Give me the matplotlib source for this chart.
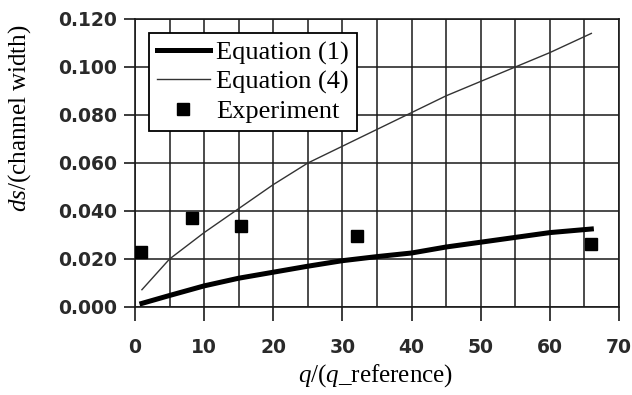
import numpy as np
import matplotlib
matplotlib.use('Agg')
import matplotlib.pyplot as plt
from matplotlib.ticker import MultipleLocator

# ---------- data ----------
q_eq = [1, 5, 10, 15, 20, 25, 30, 35, 40, 45, 50, 55, 60, 66]
ds_eq1 = [0.0015, 0.0048, 0.0088, 0.0120, 0.0145, 0.0170, 0.0193,
          0.0210, 0.0225, 0.0250, 0.0270, 0.0290, 0.0310, 0.0325]
ds_eq4 = [0.0072, 0.0200, 0.0310, 0.0410, 0.0510, 0.0600, 0.0670,
          0.0740, 0.0810, 0.0880, 0.0940, 0.1000, 0.1060, 0.1140]
q_exp = [0.9, 8.3, 15.3, 32.1, 65.9]
ds_exp = [0.0229, 0.0370, 0.0339, 0.0295, 0.0262]

labels = ['Equation (1)', 'Equation (4)', 'Experiment']
yticks = [0.0, 0.02, 0.04, 0.06, 0.08, 0.10, 0.12]
xticks = [0, 10, 20, 30, 40, 50, 60, 70]

plt.rcParams['mathtext.fontset'] = 'custom'
plt.rcParams['mathtext.rm'] = 'Liberation Serif'
plt.rcParams['mathtext.it'] = 'Liberation Serif:italic'

fig = plt.figure(figsize=(6.32, 3.95), dpi=100)
ax = fig.add_axes([135/632, 1 - 307/395, 484/632, 288/395])

ax.plot(q_eq, ds_eq1, color='black', lw=3.6, label=labels[0], zorder=3)
ax.plot(q_eq, ds_eq4, color='#333333', lw=1.0, label=labels[1], zorder=3)
ax.plot(q_exp, ds_exp, 's', color='black', ms=9, label=labels[2], zorder=4)

ax.set_xlim(0, 70)
ax.set_ylim(0, 0.12)
ax.set_xticks(xticks)
ax.xaxis.set_minor_locator(MultipleLocator(5))
ax.set_yticks(yticks)
ax.set_yticklabels(['%.3f' % v for v in yticks])

ax.grid(True, which='both', color='#1a1a1a', lw=1.1)
ax.set_axisbelow(True)
for s in ax.spines.values():
    s.set_color('#1a1a1a')
    s.set_linewidth(1.2)

ax.tick_params(axis='both', which='major', direction='out', color='#1a1a1a',
               width=1.2, labelsize=13.5)
ax.tick_params(axis='x', which='major', length=10, pad=12)
ax.tick_params(axis='y', which='major', length=8, pad=5)
ax.tick_params(axis='x', which='minor', length=0)
for t in ax.get_xticklabels() + ax.get_yticklabels():
    t.set_family('DejaVu Sans')
    t.set_weight('bold')
    t.set_color('#2a2a2a')

ax.set_xlabel(r'$q$/($q$_reference)', family='Liberation Serif', fontsize=18)
ax.set_ylabel(r'$ds$/(channel width)', family='Liberation Serif', fontsize=18)
ax.xaxis.set_label_coords(0.496, -0.19)
ax.yaxis.set_label_coords(-0.21, 0.656)
ax.xaxis.label.set_va('top')

leg = ax.legend(loc='upper left', bbox_to_anchor=(0.029, 0.951), borderaxespad=0,
                prop={'family': 'Liberation Serif', 'size': 19}, numpoints=1,
                fancybox=False, framealpha=1, edgecolor='black',
                handlelength=2.0, handletextpad=0.25, labelspacing=0.2,
                borderpad=0.3)
leg.get_frame().set_linewidth(1.3)

fig.savefig('out.png', dpi=100)
